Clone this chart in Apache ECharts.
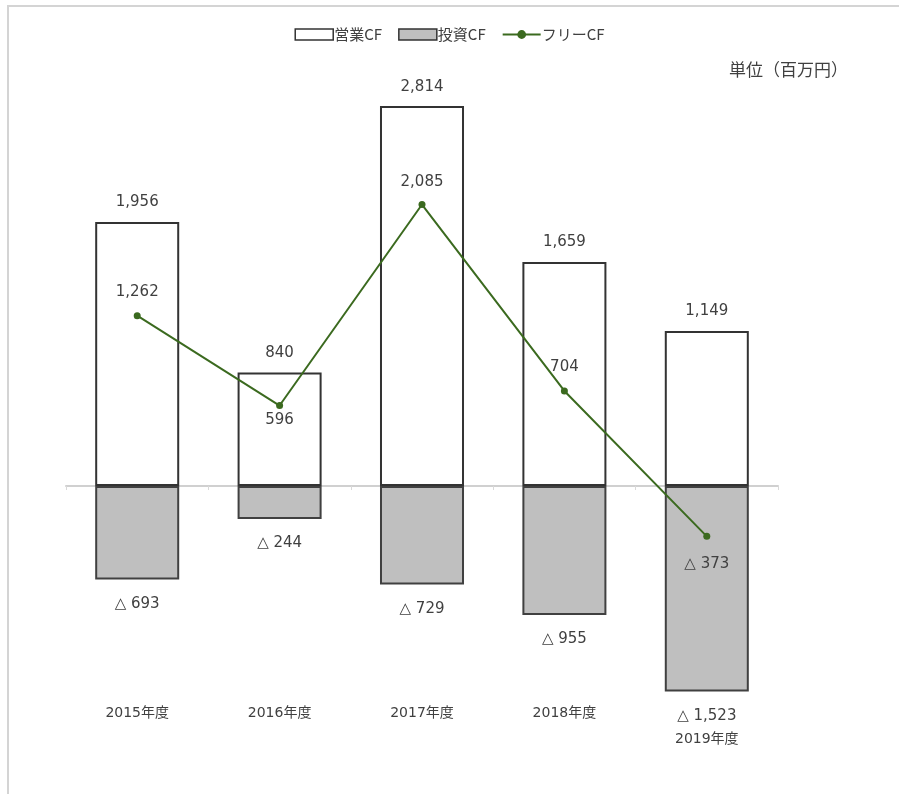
<!DOCTYPE html>
<html>
<head>
<meta charset="utf-8">
<script src="https://cdn.jsdelivr.net/npm/echarts@6/dist/echarts.min.js"></script>
<style>html,body{margin:0;padding:0;background:#fff;}#c{width:899px;height:794px;}</style>
</head>
<body>
<div id="c"></div>
<script>
const categories = ['2015年度', '2016年度', '2017年度', '2018年度', '2019年度'];
const operatingCF = [1956, 840, 2814, 1659, 1149];
const investingCF = [-693, -244, -729, -955, -1523];
const freeCF = [1262, 596, 2085, 704, -373];
const seriesNames = ['営業CF', '投資CF', 'フリーCF'];
const unitText = '単位（百万円）';

function fmt(v) {
  const s = Math.abs(v).toLocaleString('en-US');
  return v < 0 ? '△ ' + s : s;
}

const FONT = '"DejaVu Sans", "Noto Sans CJK JP", sans-serif';
const CJK = '"Noto Sans CJK JP", sans-serif';
const TXT = '#404040';

const freePos = ['top', 'bottom', 'top', 'top', 'bottom'];
const freeDist = [13, 4, 11, 13, 17];
const labelPad = [0, 0, 0, 0, 26];

const chart = echarts.init(document.getElementById('c'));
chart.setOption({
  animation: false,
  backgroundColor: '#fff',
  textStyle: { fontFamily: FONT },
  graphic: [
    { type: 'rect', shape: { x: 8, y: 6, width: 900, height: 800 }, style: { fill: 'none', stroke: '#d4d4d4', lineWidth: 2 }, z: -10 },
    { type: 'text', left: 729, top: 61, style: { text: unitText, font: '17px ' + CJK, fill: TXT } }
  ],
  legend: {
    top: 22,
    left: 'center',
    itemWidth: 38,
    itemHeight: 11,
    itemGap: 16,
    textStyle: { fontSize: 15, color: TXT, fontFamily: CJK, padding: [0, 0, 0, -4] },
    data: [
      { name: seriesNames[0], icon: 'rect', itemStyle: { color: '#fff', borderColor: '#333', borderWidth: 1.5 } },
      { name: seriesNames[1], icon: 'rect', itemStyle: { color: '#bfbfbf', borderColor: '#333', borderWidth: 1.5 } },
      { name: seriesNames[2] }
    ]
  },
  grid: { left: 66, right: 121, top: 81, bottom: 92, containLabel: false },
  xAxis: [
    {
      type: 'category', position: 'bottom',
      data: categories.map((c, i) => ({ value: c, textStyle: { padding: [labelPad[i], 0, 0, 0] } })),
      axisLine: { show: false, onZero: false }, axisTick: { show: false },
      axisLabel: { color: TXT, fontSize: 14, margin: 4, fontFamily: FONT }
    },
    {
      type: 'category', data: categories, position: 'bottom',
      axisLine: { show: true, onZero: true, lineStyle: { color: '#d0d0d0', width: 2 } },
      axisTick: { show: true, length: 4, lineStyle: { color: '#d9d9d9' } },
      axisLabel: { show: false }
    }
  ],
  yAxis: {
    type: 'value', min: -1600, max: 3000, show: false,
    splitLine: { show: false }
  },
  series: [
    {
      name: seriesNames[0], type: 'bar', stack: 'cf', data: operatingCF, barWidth: '59%',
      itemStyle: { color: '#fff', borderColor: '#333', borderWidth: 2 },
      label: { show: true, position: 'top', distance: 12, color: TXT, fontSize: 15, fontFamily: FONT, formatter: p => fmt(p.value) }
    },
    {
      name: seriesNames[1], type: 'bar', stack: 'cf', data: investingCF, barWidth: '59%',
      itemStyle: { color: '#bfbfbf', borderColor: '#404040', borderWidth: 2 },
      label: { show: true, position: 'bottom', distance: 17, color: TXT, fontSize: 15, fontFamily: FONT, formatter: p => fmt(p.value) }
    },
    {
      name: seriesNames[2], type: 'line', data: freeCF.map((v, i) => ({
        value: v,
        label: { position: freePos[i], distance: freeDist[i] }
      })),
      color: '#3b6a1f',
      symbol: 'circle', symbolSize: 7,
      lineStyle: { color: '#3b6a1f', width: 2 },
      itemStyle: { color: '#3b6a1f' },
      z: 5,
      label: { show: true, color: TXT, fontSize: 15, fontFamily: FONT, formatter: p => fmt(p.value) }
    }
  ]
});
</script>
</body>
</html>
